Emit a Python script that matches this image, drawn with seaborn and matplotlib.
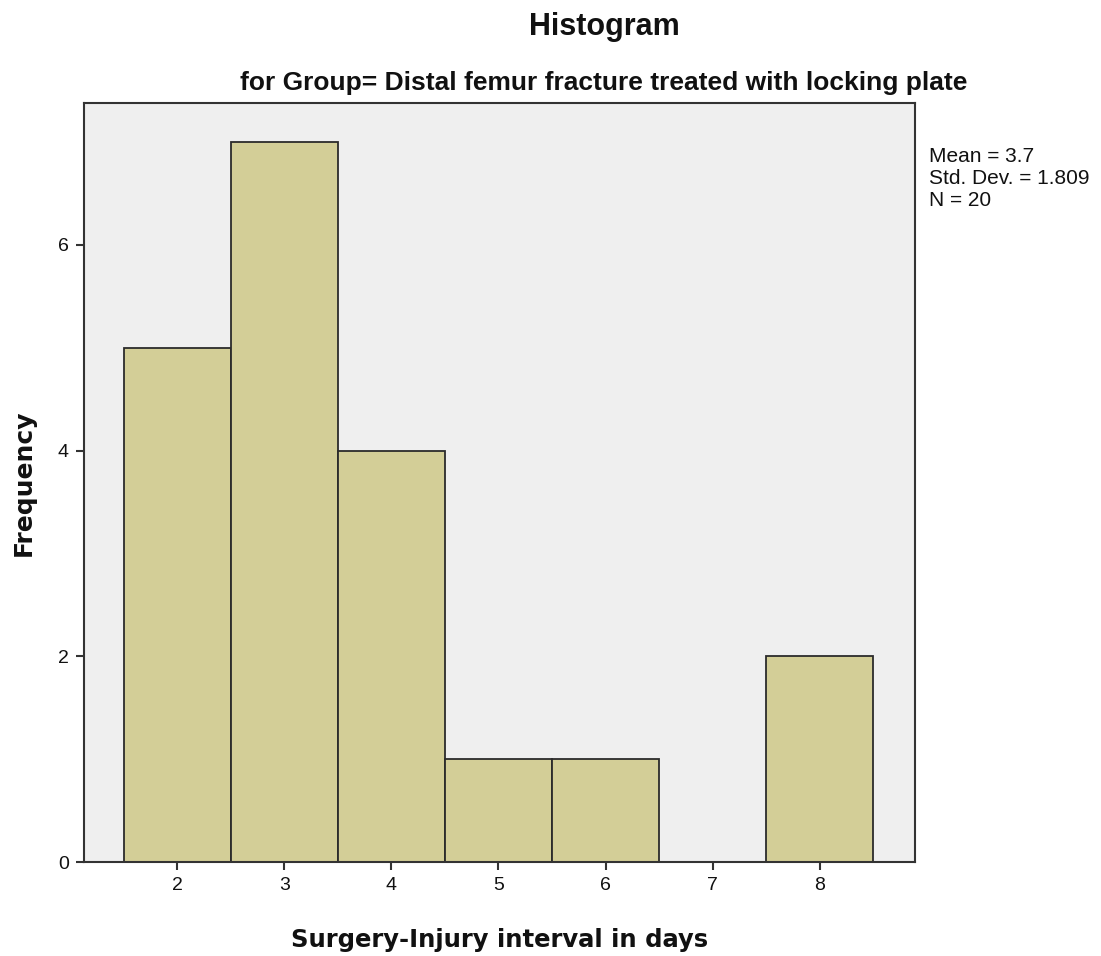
import numpy as np
import pandas as pd
import matplotlib
matplotlib.use("Agg")
import matplotlib.pyplot as plt
import seaborn as sns

# Surgery-injury interval (days) and how many patients had each interval
interval_days = [2, 3, 4, 5, 6, 8]
patient_counts = [5, 7, 4, 1, 1, 2]
x_ticks = [2, 3, 4, 5, 6, 7, 8]
y_ticks = [0, 2, 4, 6]

values = np.repeat(interval_days, patient_counts)
df = pd.DataFrame({"interval": values})
mean = values.mean()
sd = values.std(ddof=1)
n = len(values)

sns.set_theme(style="white")
plt.rcParams["font.family"] = ["Liberation Sans", "DejaVu Sans"]

fig = plt.figure(figsize=(11.01, 9.56), dpi=100)
ax = fig.add_axes([0.0763, 0.0983, 0.7548, 0.794])
ax.set_facecolor("#EFEFEF")

sns.histplot(data=df, x="interval", discrete=True, ax=ax,
             color="#D3CE97", alpha=1.0, edgecolor="#2b2b2b", linewidth=1.3)

ax.set_xlim(1.13, 8.89)
ax.set_ylim(0, 7.38)
ax.set_xticks(x_ticks)
ax.set_yticks(y_ticks)
ax.tick_params(axis="both", which="major", direction="out", length=6, width=1.5,
               color="#333333", labelsize=14, labelcolor="#111111",
               bottom=True, left=True, pad=5)
for s in ax.spines.values():
    s.set_color("#333333")
    s.set_linewidth(1.5)

label_font = ["DejaVu Sans"]
ax.set_xlabel("Surgery-Injury interval in days", fontsize=17.5, fontweight="bold",
              labelpad=24, color="#111111", family=label_font)
ax.set_ylabel("Frequency", fontsize=18, fontweight="bold", labelpad=16,
              color="#111111", family=label_font)

fig.text(0.549, 0.972, "Histogram", ha="center", va="center", fontsize=22,
         fontweight="bold", color="#111111")
fig.text(0.548, 0.913, "for Group= Distal femur fracture treated with locking plate",
         ha="center", va="center", fontsize=19, fontweight="bold", color="#111111")

fig.text(0.8435, 0.846,
         f"Mean = {mean:.1f}\nStd. Dev. = {sd:.3f}\nN = {n}",
         ha="left", va="top", fontsize=15, color="#111111", linespacing=1.2)

fig.savefig("out.png", dpi=100)
